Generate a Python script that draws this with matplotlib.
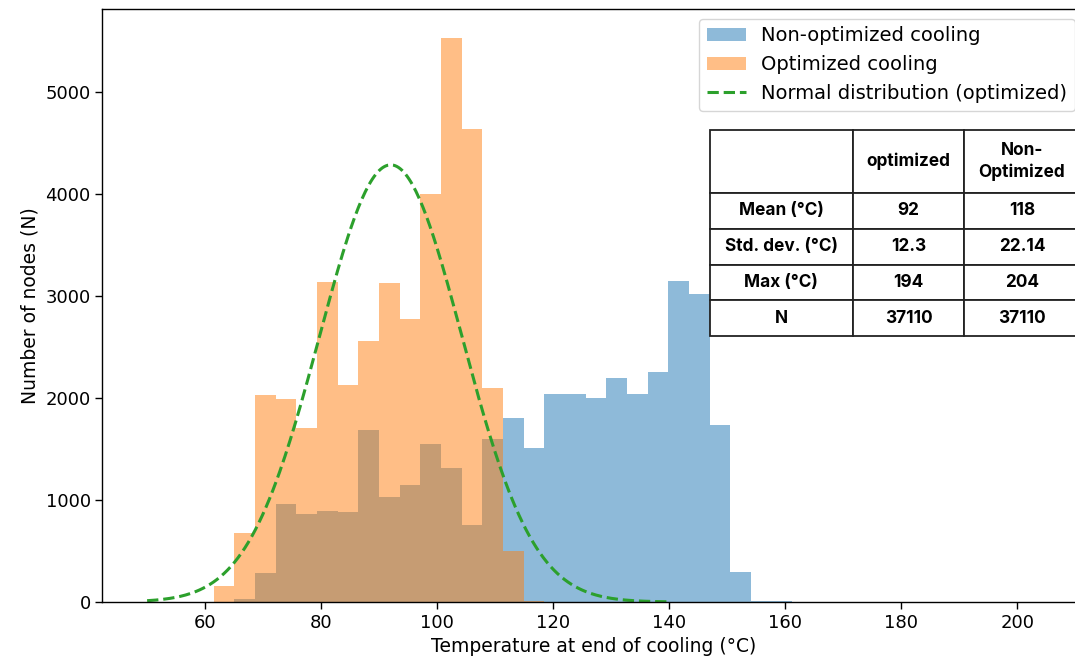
import matplotlib.pyplot as plt
import numpy as np

# shared bin edges for both histograms (40 bins)
bin_edges = np.linspace(61.5, 204, 41)

# node counts per bin, non-optimized cooling
non_optimized_counts = [0, 28, 281, 964, 867, 894, 879, 1685, 1033, 1145,
                        1550, 1311, 760, 1600, 1800, 1508, 2036, 2036, 2004, 2199,
                        2036, 2258, 3151, 3020, 1741, 296, 8, 5, 4, 3,
                        2, 2, 1, 1, 1, 0, 0, 0, 0, 1]

# node counts per bin, optimized cooling
optimized_counts = [159, 675, 2035, 1995, 1710, 3140, 2130, 2565, 3130, 2775,
                    4000, 5530, 4640, 2100, 505, 12, 4, 2, 1, 1,
                    0, 0, 0, 0, 0, 0, 0, 0, 0, 0,
                    0, 0, 0, 0, 0, 0, 0, 1, 0, 0]

# summary statistics
opt_mean = 92
opt_std = 12.3
n_nodes = 37110
curve_start = 50
curve_end = 140

row_labels = ["Mean (°C)", "Std. dev. (°C)", "Max (°C)", "N"]
col_labels = ["", "optimized", "Non-\nOptimized"]
opt_stats = ["92", "12.3", "194", "37110"]
non_opt_stats = ["118", "22.14", "204", "37110"]

fig = plt.figure(figsize=(10.75, 6.66), dpi=100)
ax = fig.add_axes([0.0953, 0.0961, 0.914, 0.8904])

centers = (bin_edges[:-1] + bin_edges[1:]) / 2
ax.hist(centers, bins=bin_edges, weights=non_optimized_counts, alpha=0.5,
        color="tab:blue", label="Non-optimized cooling")
ax.hist(centers, bins=bin_edges, weights=optimized_counts, alpha=0.5,
        color="tab:orange", label="Optimized cooling")

# normal fit scaled to counts per bin
bin_width = bin_edges[1] - bin_edges[0]
xs = np.linspace(curve_start, curve_end, 300)
pdf = np.exp(-0.5 * ((xs - opt_mean) / opt_std) ** 2) / (opt_std * np.sqrt(2 * np.pi))
ax.plot(xs, pdf * n_nodes * bin_width, "--", color="tab:green", lw=2.2,
        label="Normal distribution (optimized)")

ax.set_xlim(42.3, 211.7)
ax.set_ylim(0, 5817)
ax.set_xticks(range(60, 201, 20))
ax.set_yticks(range(0, 5001, 1000))
ax.tick_params(labelsize=13, length=5, width=1)
for s in ax.spines.values():
    s.set_linewidth(1.0)

ax.set_xlabel("Temperature at end of cooling (°C)", fontsize=13.5)
ax.set_ylabel("Number of nodes (N)", fontsize=13.5)
ax.legend(loc="upper right", fontsize=14, handlelength=2.0)

# stats table
tax = fig.add_axes([0.66, 0.4955, 0.3447, 0.3086])
tax.axis("off")
cells = [col_labels] + [[r, a, b] for r, a, b in zip(row_labels, opt_stats, non_opt_stats)]
tbl = tax.table(cellText=cells, cellLoc="center", bbox=[0, 0, 1, 1],
                colWidths=[143.5, 111, 116])
tbl.auto_set_font_size(False)
for (r, c), cell in tbl.get_celld().items():
    cell.set_height(63 if r == 0 else 36)
    cell.set_linewidth(1.3)
    cell.set_edgecolor("#222222")
    t = cell.get_text()
    t.set_fontsize(12.4)
    t.set_fontweight("bold")
    t.set_fontfamily("Inter")
    t.set_linespacing(1.3)

fig.savefig("out.png", dpi=100)
